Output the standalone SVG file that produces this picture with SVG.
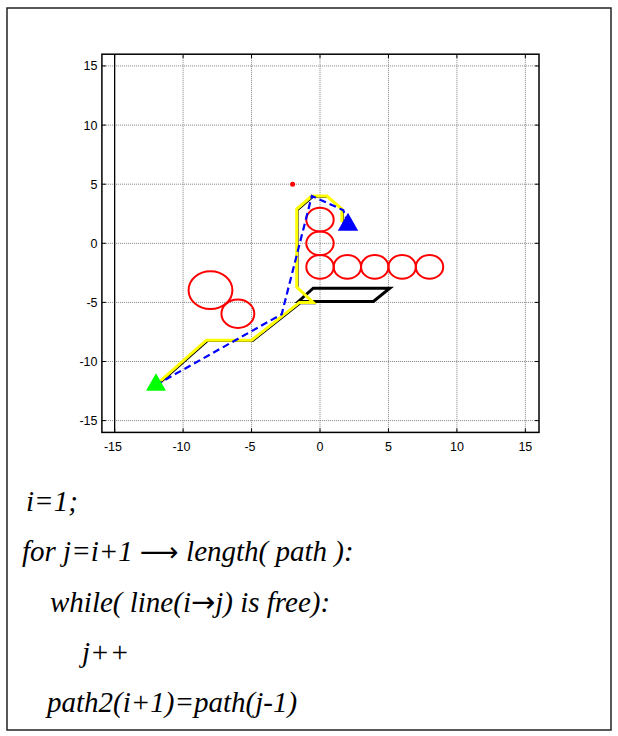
<svg xmlns="http://www.w3.org/2000/svg" width="618" height="736" viewBox="0 0 618 736">
<style>
.grid{stroke:#808080;stroke-width:1;stroke-dasharray:1 1;fill:none}
.tick{stroke:#000;stroke-width:1;fill:none}
.lab{font-family:"Liberation Sans",Arial,sans-serif;font-size:12.5px;fill:#000}
.obs{fill:none;stroke:#ff0000;stroke-width:2}
.code{font-family:"Liberation Serif","Times New Roman",serif;font-style:italic;font-size:29px;fill:#000}
.arr{font-family:"DejaVu Sans",sans-serif;font-style:normal}
</style>
<rect x="0" y="0" width="618" height="736" fill="#fff"/>
<rect id="frame" x="7" y="8" width="604" height="722" fill="none" stroke="#222" stroke-width="1.5"/>
<g id="grid">
<line class="grid" x1="183.1" y1="54.2" x2="183.1" y2="432.4"/>
<line class="grid" x1="251.55" y1="54.2" x2="251.55" y2="432.4"/>
<line class="grid" x1="320" y1="54.2" x2="320" y2="432.4"/>
<line class="grid" x1="388.45" y1="54.2" x2="388.45" y2="432.4"/>
<line class="grid" x1="456.9" y1="54.2" x2="456.9" y2="432.4"/>
<line class="grid" x1="525.35" y1="54.2" x2="525.35" y2="432.4"/>
<line class="grid" x1="101.9" y1="65.95" x2="539" y2="65.95"/>
<line class="grid" x1="101.9" y1="125.1" x2="539" y2="125.1"/>
<line class="grid" x1="101.9" y1="184.2" x2="539" y2="184.2"/>
<line class="grid" x1="101.9" y1="243.3" x2="539" y2="243.3"/>
<line class="grid" x1="101.9" y1="302.4" x2="539" y2="302.4"/>
<line class="grid" x1="101.9" y1="361.5" x2="539" y2="361.5"/>
<line class="grid" x1="101.9" y1="420.6" x2="539" y2="420.6"/>
<line x1="114.65" y1="54.2" x2="114.65" y2="432.4" stroke="#000" stroke-width="1.3"/>
</g>
<g id="axes">
<rect x="101.9" y="54.2" width="437.1" height="378.2" fill="none" stroke="#000" stroke-width="1.5"/>
<path class="tick" d="M114.65 54.2v4M183.1 54.2v4M251.55 54.2v4M320 54.2v4M388.45 54.2v4M456.9 54.2v4M525.35 54.2v4M114.65 432.4v-4M183.1 432.4v-4M251.55 432.4v-4M320 432.4v-4M388.45 432.4v-4M456.9 432.4v-4M525.35 432.4v-4M101.9 65.95h4M101.9 125.1h4M101.9 184.2h4M101.9 243.3h4M101.9 302.4h4M101.9 361.5h4M101.9 420.6h4M539 65.95h-4M539 125.1h-4M539 184.2h-4M539 243.3h-4M539 302.4h-4M539 361.5h-4M539 420.6h-4"/>
<g class="lab" text-anchor="middle">
<text x="113" y="450.5">-15</text>
<text x="181.5" y="450.5">-10</text>
<text x="250" y="450.5">-5</text>
<text x="320" y="450.5">0</text>
<text x="388.45" y="450.5">5</text>
<text x="456.9" y="450.5">10</text>
<text x="525.35" y="450.5">15</text>
</g>
<g class="lab" text-anchor="end">
<text x="97.5" y="70.4">15</text>
<text x="97.5" y="129.6">10</text>
<text x="97.5" y="188.7">5</text>
<text x="97.5" y="247.8">0</text>
<text x="97.5" y="306.9">-5</text>
<text x="97.5" y="366">-10</text>
<text x="97.5" y="425.1">-15</text>
</g>
</g>
<g id="obstacles">
<ellipse class="obs" cx="320" cy="219.66" rx="13.69" ry="11.82"/>
<ellipse class="obs" cx="320" cy="243.3" rx="13.69" ry="11.82"/>
<ellipse class="obs" cx="320" cy="266.94" rx="13.69" ry="11.82"/>
<ellipse class="obs" cx="347.38" cy="266.94" rx="13.69" ry="11.82"/>
<ellipse class="obs" cx="374.76" cy="266.94" rx="13.69" ry="11.82"/>
<ellipse class="obs" cx="402.14" cy="266.94" rx="13.69" ry="11.82"/>
<ellipse class="obs" cx="429.52" cy="266.94" rx="13.69" ry="11.82"/>
<ellipse class="obs" cx="210.48" cy="290.2" rx="21.9" ry="18.9"/>
<ellipse class="obs" cx="237.86" cy="313.8" rx="16.43" ry="14.18"/>
<circle cx="292.62" cy="184.2" r="2.5" fill="#ff0000"/>
<polygon points="298.5,301.5 373.4,301.5 389.8,288.2 313.2,288.2" fill="none" stroke="#000" stroke-width="3" stroke-linejoin="miter"/>
</g>
<g id="connectors">
<polyline points="156.9,386.3 207.6,341.4 252.8,341.4 300.7,303.6 314.4,303.6 297.9,288.2 297.9,210.2 313,197.2 328,197.2 343.1,210.2 343.1,223.2" fill="none" stroke="#000" stroke-width="1.3"/>
<polyline points="155.7,385.1 206.4,340.2 251.6,340.2 299.5,302.4 313.2,302.4 296.7,287 296.7,209 311.8,196 326.8,196 341.9,209 341.9,222" fill="none" stroke="#ffff00" stroke-width="3"/>
<polyline points="155.7,385.1 281.7,314.2 311.8,196 343.3,210.2 347.4,222" fill="none" stroke="#0000ff" stroke-width="2.2" stroke-dasharray="7 4"/>
</g>
<g id="start">
<polygon points="156,373.3 166,390.8 146,390.8" fill="#00ff00"/>
</g>
<g id="goal">
<polygon points="348,212.8 358.2,230.8 337.8,230.8" fill="#0000ff"/>
</g>
<g id="code" class="code">
<text x="26" y="511">i=1;</text>
<text x="22" y="561">for j=i+1 <tspan class="arr" font-size="27px">⟶</tspan> length( path ):</text>
<text x="50" y="612">while( line(i<tspan class="arr">→</tspan>j) is free):</text>
<text x="82" y="662">j++</text>
<text x="47" y="712">path2(i+1)=path(j-1)</text>
</g>
</svg>
